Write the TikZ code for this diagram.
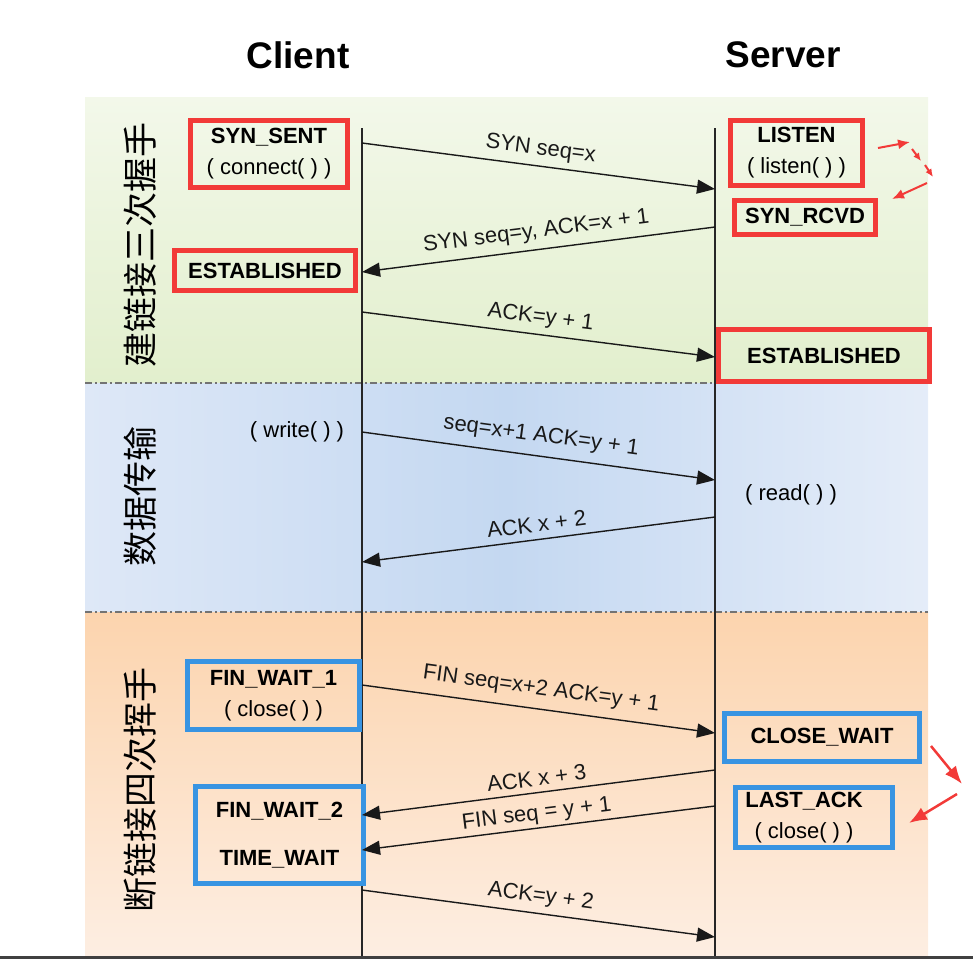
\documentclass[tikz,border=0pt]{standalone}
\usepackage{fontspec}
\setmainfont{Liberation Sans}
\newfontfamily\cjk{Noto Sans CJK SC}
\usetikzlibrary{arrows.meta, positioning}
\definecolor{boxred}{RGB}{242,58,56}
\definecolor{boxblue}{RGB}{56,148,226}
\definecolor{greentop}{RGB}{243,248,234}
\definecolor{greenbot}{RGB}{226,239,205}
\definecolor{bluelight}{RGB}{222,232,247}
\definecolor{bluemid}{RGB}{196,216,241}
\definecolor{orangetop}{RGB}{252,212,174}
\definecolor{orangebot}{RGB}{253,238,226}
\newcommand{\bodyfont}{\fontsize{22}{31}\selectfont}

\begin{document}
\begin{tikzpicture}[x=1pt, y=-1pt,
  msg/.style={-{Triangle[length=18pt,width=14pt]}, line width=1.4pt, black!90},
  lbl/.style={midway, sloped, above=6pt, inner sep=0pt, font=\bodyfont},
  redbox/.style={draw=boxred, line width=5pt, inner sep=0pt, align=center, font=\bfseries\bodyfont},
  bluebox/.style={draw=boxblue, line width=5pt, inner sep=0pt, align=center, font=\bfseries\bodyfont},
  hint/.style={-{Latex[length=12pt,width=10pt]}, line width=2pt, boxred},
  phase/.style={rotate=90, font=\cjk\fontsize{35}{35}\selectfont},
  sep/.style={line width=1.5pt, black!55, dash pattern=on 7pt off 3pt on 2pt off 3pt}]
  \useasboundingbox (0,0) rectangle (973,959);

  % 背景
  \shade[top color=greentop, bottom color=greenbot] (85,97) rectangle (928,383);
  \shade[left color=bluelight, right color=bluelight!80!white, middle color=bluemid] (85,383) rectangle (928,612);
  \shade[top color=orangetop, bottom color=orangebot] (85,612) rectangle (928,956);
  \draw[sep] (85,383) -- (928,383);
  \draw[sep] (85,612) -- (928,612);
  \fill[black!75] (0,956) rectangle (973,959);

  % 标题
  \node[font=\bfseries\fontsize{37}{40}\selectfont] (client) at (298,55) {Client};
  \node[font=\bfseries\fontsize{37}{40}\selectfont] (server) at (783,55) {Server};

  % 时间线
  \coordinate (ctop) at (362,128);
  \coordinate (cbot) at (362,956);
  \coordinate (stop) at (715,128);
  \coordinate (sbot) at (715,956);
  \draw[line width=1.5pt, black!85] (ctop) -- (cbot);
  \draw[line width=1.5pt, black!85] (stop) -- (sbot);

  % 阶段
  \node[phase] (hs3) at (140,245) {建链接三次握手};
  \node[phase] (data) at (140,496) {数据传输};
  \node[phase] (hs4) at (140,790) {断链接四次挥手};

  % 状态
  \node[redbox, minimum width=157pt, minimum height=67pt] (synsent) at (269,154) {SYN\_SENT\\\mdseries( connect( ) )};
  \node[redbox, minimum width=132pt, minimum height=65pt] (listen) at (796.5,153) {LISTEN\\\mdseries( listen( ) )};
  \node[redbox, minimum width=141pt, minimum height=34pt] (synrcvd) at (805,217.5) {SYN\_RCVD};
  \node[redbox, minimum width=181pt, minimum height=40pt] (estc) at (265,270.5) {ESTABLISHED};
  \node[redbox, minimum width=211pt, minimum height=52pt] (ests) at (824,355.5) {ESTABLISHED};
  \node[font=\bodyfont] (write) at (297,432) {( write( ) )};
  \node[font=\bodyfont] (read) at (791,495) {( read( ) )};
  \node[bluebox, minimum width=172pt, minimum height=68pt] (fw1) at (273.5,695.5) {FIN\_WAIT\_1\\\mdseries( close( ) )};
  \node[bluebox, minimum width=195pt, minimum height=48pt] (closewait) at (822,737.5) {CLOSE\_WAIT};
  \node[bluebox, minimum width=157pt, minimum height=60pt] (lastack) at (814,817.5) {LAST\_ACK\hspace*{20pt}\\\mdseries( close( ) )\hspace*{20pt}};
  \node[bluebox, minimum width=168pt, minimum height=97pt] (fw2) at (279.5,835) {FIN\_WAIT\_2\\[17pt]TIME\_WAIT};

  % 报文
  \coordinate (c1) at (362,143);  \coordinate (s1) at (715,189);
  \coordinate (s2) at (715,227);  \coordinate (c2) at (362,272);
  \coordinate (c3) at (362,312);  \coordinate (s3) at (715,357);
  \coordinate (c4) at (362,432);  \coordinate (s4) at (715,480);
  \coordinate (s5) at (715,517);  \coordinate (c5) at (362,562);
  \coordinate (c6) at (362,685);  \coordinate (s6) at (715,733);
  \coordinate (s7) at (715,770);  \coordinate (c7) at (362,815);
  \coordinate (s8) at (715,806);  \coordinate (c8) at (362,850);
  \coordinate (c9) at (362,890);  \coordinate (s9) at (715,937);
  \draw[msg] (c1) -- node[lbl] {SYN seq=x} (s1);
  \draw[msg] (s2) -- node[lbl, above=7pt] {SYN seq=y, ACK=x + 1} (c2);
  \draw[msg] (c3) -- node[lbl] {ACK=y + 1} (s3);
  \draw[msg] (c4) -- node[lbl, above=9pt] {seq=x+1 ACK=y + 1} (s4);
  \draw[msg] (s5) -- node[lbl, above=7pt] {ACK x + 2} (c5);
  \draw[msg] (c6) -- node[lbl, above=9pt] {FIN seq=x+2 ACK=y + 1} (s6);
  \draw[msg] (s7) -- node[lbl] {ACK x + 3} (c7);
  \draw[msg] (s8) -- node[lbl, above=3pt] {FIN seq = y + 1} (c8);
  \draw[msg] (c9) -- node[lbl] {ACK=y + 2} (s9);

  % 红色提示箭头
  \coordinate (r1) at (878,148); \coordinate (r2) at (910,142);
  \coordinate (r3) at (912,149); \coordinate (r4) at (921,161);
  \coordinate (r5) at (925,165); \coordinate (r6) at (933,177);
  \coordinate (r7) at (927,183); \coordinate (r8) at (892,199);
  \draw[hint] (r1) -- (r2);
  \draw[hint, -{Latex[length=8pt,width=7pt]}] (r3) -- (r4);
  \draw[hint, -{Latex[length=8pt,width=7pt]}] (r5) -- (r6);
  \draw[hint] (r7) -- (r8);
  \coordinate (q1) at (931,746); \coordinate (q2) at (962,784);
  \coordinate (q3) at (957,794); \coordinate (q4) at (909,823);
  \draw[hint, line width=2.5pt, -{Latex[length=18pt,width=14pt]}] (q1) -- (q2);
  \draw[hint, line width=2.5pt, -{Latex[length=18pt,width=14pt]}] (q3) -- (q4);
\end{tikzpicture}
\end{document}
